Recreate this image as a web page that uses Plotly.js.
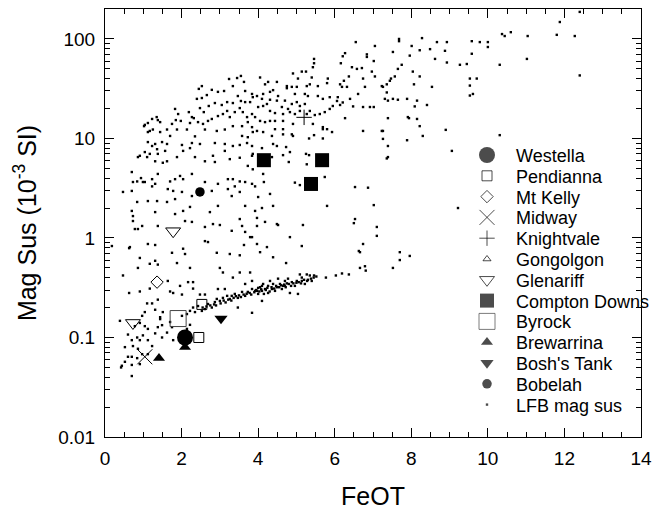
<!DOCTYPE html>
<html><head><meta charset="utf-8">
<script src="https://cdn.plot.ly/plotly-3.0.1.min.js"></script>
<style>html,body{margin:0;padding:0;background:#fff}#chart{width:654px;height:510px}</style>
</head><body><div id="chart"></div>
<script>
// LFB mag sus points [FeOT, MagSus]
const lfbPoints = [
[3.55,42.5],[3.45,40.5],[3.24,39.6],[3.63,37],[2.53,33.6],[2.45,31.5],[2.79,30.8],[2.95,29.4],[3.11,30],[3.34,33.6],[3.66,30],[2.66,27.3],[2.4,25],[2.53,25.5],[3.47,26.7],[3.55,23.8],[3.66,23.2],[3.79,23.2],[3.86,26],[3.19,23.2],[3.34,22.7],[3.05,21.7],[2.87,22.7],[2.71,21.2],[2.48,20.2],[2.58,18.4],[1.83,19.8],[1.91,17.6],[2.19,18.4],[2.32,16],[2.43,14.6],[2.56,14],[2.69,15],[2.79,15.7],[2.95,16.8],[3.08,17.6],[3.19,18.9],[3.26,16.4],[3.39,18.4],[3.52,20.2],[3.6,18.4],[3.71,16.4],[3.84,17.6],[3.73,14.6],[3.58,13.3],[3.34,13.3],[3.13,12.3],[2.92,11.9],[2.61,12.3],[2.35,10.5],[2.14,12.3],[1.98,15],[1.85,15.3],[1.75,14],[1.62,12.3],[1.38,15.3],[1.23,15.7],[1.12,14.3],[1.02,13.3],[1.25,12.3],[1.12,11.6],[1.44,11.6],[1.7,10.6],[1.88,12.3],[3.58,10.6],[3.73,10.3],[3.86,11.6],[3.84,13],[2.22,14.3],[2.27,16.4],
[1.12,9.2],[1.31,8.8],[1.49,9.2],[1.62,8.8],[2.01,8.6],[2.27,9],[2.48,8.8],[2.87,9],[3.13,8.8],[3.34,8.4],[3.52,8.6],[3.71,9],[3.84,8.4],[1.04,7.3],[1.17,7],[1.38,7],[1.57,7.5],[0.86,6.5],[1.1,6.5],[1.31,5.9],[1.51,5.7],[1.62,5.9],[1.88,6.5],[2.04,7.5],[2.22,8],[2.35,6.5],[2.61,5.9],[2.87,5.8],[2.82,6.7],[3.13,7.5],[3.26,6.2],[3.52,6.4],[3.73,5.3],[3.84,6.7],[0.7,4.6],[0.84,3.7],[0.94,4],[1.04,3.65],[1.23,3.9],[1.31,3.5],[1.38,4.4],[1.7,3.7],[1.83,3.9],[1.96,4.2],[2.04,3.9],[1.64,3.1],[1.78,2.97],[2.01,2.9],[2.27,4.4],[2.61,3.65],[2.79,2.97],[2.95,3.5],[3.21,3.9],[3.34,3.9],[3.39,3.3],[3.52,3.7],[3.66,3.65],[3.84,3.5],[3.21,3.1],[3.31,2.64],[3.52,2.9],[0.47,2.9],[0.7,2.97],[0.84,2.3],[1.12,2.35],[1.36,2.35],[1.62,2.3],[1.83,2.46],[2.27,2.64],[0.7,1.87],[1.31,1.82],[1.83,1.74],[2.04,1.87],[2.22,2.05],[2.74,1.82],[2.95,2.1],[3.66,2.1],[3.52,1.55],[0.73,1.48],[0.86,1.23],[0.97,1.32],[1.38,1.32],[2.09,1.48],[2.27,1.45],[2.61,1.29],[2.82,1.38],[3.0,1.35],[3.31,1.18],[3.58,1.32],[3.66,1.15],[3.79,1.02],[2.61,0.93],[2.69,0.91],[1.12,0.87],[1.31,0.85],[0.65,0.81],
[7.68,100],[7.68,95],[7.05,85],[6.55,93],[6.27,72],[6.21,67],[6.84,70],[6.84,66],[7.02,60],[7.52,74],[7.75,55],[7.65,50],[7.57,42],[7.44,38],[7.36,35],[7.26,33],[7.36,29],[7.31,25],[7.39,24],[7.65,24.5],[7.89,25],[5.46,63],[5.46,57],[5.43,52],[6.16,57],[6.45,52],[6.58,50],[6.71,51],[6.97,47],[7.05,42],[6.74,40],[6.37,42],[6.24,38],[6.14,35],[6.19,33],[6.32,33],[6.79,33],[6.61,28],[6.4,25],[6.21,23],[6.48,21],[6.74,20.7],[6.92,20.7],[7.02,20.7],[7.39,16],[7.94,16],[7.26,11.9],[6.74,11.9],[6.27,16],[5.93,11.6],[5.8,12.4],[5.69,13],[5.25,47],[5.14,47],[4.91,45],[5.04,40],[5.4,41],[5.82,40],[5.8,36],[5.56,33.6],[5.35,35],[5.27,33.6],[5.01,33],[4.75,33.6],[4.49,37],[4.26,37],[4.18,35],[4.05,41],[4.39,30.6],[4.31,29.4],[4.75,32],[4.88,33],[4.96,28],[5.22,28],[5.3,26.7],[5.56,26.7],[5.69,25],[5.87,26],[6.08,26],[6.06,23.8],[6.14,21.7],[5.95,21.2],[5.87,19.8],[5.74,18.4],[5.61,17.6],[5.48,17.2],[5.35,18.9],[5.22,22.2],[5.09,21.2],[5.01,23.2],[4.88,22.2],[4.78,19.8],[4.7,24],[4.62,20.7],[4.52,26.7],[4.49,24],[4.31,24.5],[4.13,28],[4.1,25],[3.97,26.7],[3.84,28],[4.0,20.7],[4.13,21.2],[4.23,22.2],[4.31,18.9],[4.44,18],[4.65,17.6],[4.83,18.4],[4.96,17.6],[5.09,18.9],[5.27,17.6],[3.92,16.4],[4.05,15],[4.18,14.6],[4.31,15],[4.44,15],[4.65,15],[4.91,14],[5.43,14],[5.69,12.4],[3.97,11.9],[4.13,11.6],[4.36,10.6],[4.65,12.4],[4.65,11],[4.44,12.4],[4.88,11],[5.33,10],
[12.4,187],[11.88,148],[11.8,110],[12.27,107],[11.04,107],[10.6,117],[10.37,112],[10.44,107],[10.0,93],[9.79,93],[9.58,95],[10.0,83],[9.58,71],[8.93,93],[8.67,93],[8.28,102],[8.01,85],[7.96,68],[8.22,77],[8.49,79],[8.88,76],[8.62,63],[8.93,58],[9.27,55],[9.45,56],[10.31,55],[11.02,63],[12.4,43],[9.53,40],[9.71,40],[9.53,34],[9.61,28],[9.53,27],[8.54,33],[8.07,35],[8.22,42],[8.04,47],[8.15,24],[8.09,21],[8.41,21.7],[8.22,13.3],[8.15,15.7],[7.91,16.4],[7.23,11.9],[7.26,9.9],[7.39,8.4],[7.39,6.5],[8.3,10.6],[8.9,12.2],[9.06,7.5],[10.31,10.8],[6.53,3.25],[6.87,3.2],[7.02,2.14],[6.53,1.55],[6.5,1.41],[7.1,1.29],[6.74,0.87],[5.8,2.1],[5.74,4.1],[9.22,2.0],[7.47,40],[7.23,33.6],[7.52,25],
[7.89,9.6],[7.36,6.3],[4.91,10.6],[5.46,10.8],[5.69,10],[5.25,7],[5.33,6.8],[5.27,5.5],[4.8,5.8],[4.83,7.3],[4.65,6.8],[4.73,8.2],[4.49,8.4],[4.39,8.8],[4.1,8],[4.36,6.5],[3.86,7],[3.86,4.9],[4.13,4.4],[4.15,3.65],[3.92,3.3],[4.31,2.77],[4.0,2.58],[4.39,2.1],[4.1,2.0],[3.92,1.87],[3.97,1.59],[4.18,1.45],[4.49,1.38],[3.97,1.32],[5.17,1.35],[4.96,3.6],[5.09,3.4],[6.63,0.74],[7.1,1.05],[7.7,0.72],[4.83,1.02],[5.14,0.83],[3.84,1.02],[3.97,0.87],[4.23,0.81],[4.05,0.72],[4.39,0.64],
[0.18,0.83],[0.63,0.79],[1.75,0.71],[2.04,0.78],[2.09,0.69],[2.92,0.71],[3.26,0.69],[3.52,0.67],[3.63,0.85],[0.91,0.63],[1.17,0.55],[1.31,0.59],[1.38,0.54],[0.86,0.5],[0.47,0.42],[1.88,0.56],[2.22,0.5],[3.0,0.5],[3.08,0.45],[3.34,0.4],[3.52,0.45],[3.79,0.45],[1.64,0.37],[2.17,0.36],[2.3,0.36],[1.96,0.33],[2.3,0.31],[2.48,0.27],[2.61,0.27],[2.01,0.27],[1.7,0.29],[1.78,0.28],[1.17,0.31],[0.63,0.28],[0.91,0.29],[1.38,0.24],[1.1,0.22],[1.23,0.22],[1.04,0.18],[1.31,0.19],[1.51,0.18],[1.44,0.16],[0.39,0.147],[0.97,0.165],[0.91,0.14],[0.78,0.13],[1.04,0.13],[1.12,0.122],[1.38,0.127],[1.49,0.133],[1.62,0.112],[1.75,0.127],[1.7,0.143],[1.44,0.153],[1.31,0.11],[0.99,0.105],[0.84,0.1],[0.6,0.107],[0.7,0.094],[0.91,0.094],[1.12,0.094],[1.49,0.1],[1.78,0.094],[0.52,0.08],[0.73,0.082],[0.86,0.077],[1.23,0.082],[0.6,0.064],[0.7,0.064],[0.84,0.062],[0.52,0.057],[0.44,0.052],[0.42,0.05],[0.7,0.053],[0.91,0.054],[0.7,0.041],[0.97,0.068],[1.12,0.068],[2.01,0.165],[2.14,0.172],[2.22,0.185],[2.3,0.2],[2.35,0.18],[2.22,0.134],[2.14,0.122],
[2.43,0.207],[2.53,0.185],[2.61,0.193],[2.69,0.217],[2.79,0.2],[2.87,0.227],[2.92,0.244],[3.0,0.233],[3.08,0.25],[3.19,0.262],[3.26,0.244],[3.31,0.262],[3.39,0.274],[3.47,0.25],[3.58,0.287],[3.66,0.262],[3.73,0.287],[3.84,0.307],[3.92,0.294],[4.0,0.315],[4.1,0.33],[3.13,0.307],[2.95,0.307],[3.66,0.345],[3.84,0.37],[3.47,0.2],[3.84,0.177],[4.1,0.233],
[4.52,1.35],[6.66,0.72],[4.73,0.56],[7.96,0.66],[7.7,0.6],[7.52,0.5],[6.79,0.52],[6.81,0.47],[6.66,0.5],[6.37,0.43],[6.19,0.44],[6.03,0.42],[5.77,0.4],[5.46,0.42],[5.35,0.42],[5.4,0.37],[5.27,0.43],[5.22,0.345],[5.14,0.4],[5.09,0.43],[5.01,0.37],[4.96,0.33],[4.88,0.36],[4.78,0.39],[4.75,0.35],[4.7,0.37],[4.65,0.33],[4.57,0.345],[4.52,0.39],[4.49,0.32],[4.39,0.345],[4.36,0.307],[4.31,0.37],[4.26,0.33],[4.18,0.307],[4.13,0.345],[4.1,0.294],[4.05,0.32],[4.0,0.274],[3.97,0.294],[4.15,0.274],[4.26,0.28],[4.44,0.294],[4.62,0.307],[4.83,0.28],[5.04,0.274],[4.7,0.33],[5.14,0.37],[5.3,0.38],
[0.73,1.66],[0.78,1.23],[1.04,13.7],[1.35,16.4],[0.73,3.65],[1.17,11.9],[1.44,14.6],[0.91,6.7],[1.23,8.4],[1.36,7.8],[0.99,3.65],[1.23,3.3],
[2.55,0.2],[2.65,0.205],[2.75,0.21],[2.85,0.215],[2.9,0.21],[3.02,0.22],[3.1,0.235],[3.15,0.225],[3.22,0.24],[3.3,0.235],[3.36,0.25],[3.42,0.26],[3.5,0.265],[3.55,0.255],[3.62,0.27],[3.7,0.275],[3.78,0.28],[3.82,0.27],[3.9,0.285],[3.95,0.3],[4.03,0.29],[4.08,0.305],[4.2,0.3],[4.24,0.315],[4.3,0.29],[4.35,0.32],[4.42,0.31],[4.47,0.33],[4.55,0.32],[4.6,0.335],[4.68,0.34],[4.72,0.32],[4.8,0.345],[4.86,0.33],[4.92,0.35],[5.0,0.355],[5.06,0.36],[5.12,0.35],[5.2,0.38],[5.28,0.37],[5.38,0.39],[5.45,0.4],[5.52,0.41]
];

// Sample locations
const westellaFe = [2.09],        westellaMs = [0.1];
const pendiannaFe = [2.45, 2.53], pendiannaMs = [0.1, 0.215];
const mtKellyFe = [1.36],         mtKellyMs = [0.36];
const midwayFe = [1.04],          midwayMs = [0.064];
const knightvaleFe = [5.2],       knightvaleMs = [16.3];
const gongolgonFe = [],           gongolgonMs = [];
const glenariffFe = [0.73, 1.78], glenariffMs = [0.14, 1.17];
const comptonFe = [4.15, 5.38, 5.67], comptonMs = [6.05, 3.49, 6.05];
const byrockFe = [1.91],          byrockMs = [0.155];
const brewarrinaFe = [1.41, 2.09], brewarrinaMs = [0.062, 0.08];
const boshFe = [3.03],            boshMs = [0.155];
const bobelahFe = [2.48],         bobelahMs = [2.9];

const seriesNames = ['Westella', 'Pendianna', 'Mt Kelly', 'Midway', 'Knightvale', 'Gongolgon', 'Glenariff',
                     'Compton Downs', 'Byrock', 'Brewarrina', "Bosh's Tank", 'Bobelah', 'LFB mag sus'];

const FONT = 'Liberation Sans, Arial, sans-serif';

// marker styles per series
const styles = {
  'Westella':      {symbol: 'circle', size: 16, lw: 0},
  'Pendianna':     {symbol: 'square-open', size: 10, lw: 1},
  'Mt Kelly':      {symbol: 'diamond-open', size: 9.5, lw: 1},
  'Midway':        {symbol: 'x-thin-open', size: 15, lw: 1},
  'Knightvale':    {symbol: 'cross-thin-open', size: 11, lw: 1},
  'Gongolgon':     {symbol: 'triangle-up-open', size: 7, lw: 1},
  'Glenariff':     {symbol: 'triangle-down-open', size: 13, lw: 1},
  'Compton Downs': {symbol: 'square', size: 14, lw: 0},
  'Byrock':        {symbol: 'square-open', size: 16, lw: 1, color: '#444'},
  'Brewarrina':    {symbol: 'triangle-up', size: 10.5, lw: 0},
  "Bosh's Tank":   {symbol: 'triangle-down', size: 11.5, lw: 0},
  'Bobelah':       {symbol: 'circle', size: 9.5, lw: 0},
  'LFB mag sus':   {symbol: 'square', size: 2.4, lw: 0}
};

function tr(name, x, y) {
  const s = styles[name];
  return {
    type: 'scatter', mode: 'markers', name: name, x: x, y: y, showlegend: false,
    marker: {symbol: s.symbol, size: s.size, color: s.color || '#000', line: {width: s.lw, color: s.color || '#000'}},
    cliponaxis: false, hoverinfo: 'skip'
  };
}

const traces = [
  tr('LFB mag sus', lfbPoints.map(p => p[0]), lfbPoints.map(p => p[1])),
  tr('Westella', westellaFe, westellaMs),
  tr('Pendianna', pendiannaFe, pendiannaMs),
  tr('Mt Kelly', mtKellyFe, mtKellyMs),
  tr('Midway', midwayFe, midwayMs),
  tr('Knightvale', knightvaleFe, knightvaleMs),
  tr('Glenariff', glenariffFe, glenariffMs),
  tr('Compton Downs', comptonFe, comptonMs),
  tr('Byrock', byrockFe, byrockMs),
  tr('Brewarrina', brewarrinaFe, brewarrinaMs),
  tr("Bosh's Tank", boshFe, boshMs),
  tr('Bobelah', bobelahFe, bobelahMs)
];

// Custom legend (pixel-space overlay axes)
const LEG_SYM_X = 487, LEG_TXT_X = 514, LEG_TOP = 155, LEG_STEP = 20.8;
const legRows = seriesNames.map((n, i) => LEG_TOP + i * LEG_STEP);
traces.push({
  type: 'scatter', mode: 'markers', xaxis: 'x2', yaxis: 'y2', showlegend: false, hoverinfo: 'skip',
  x: seriesNames.map(() => LEG_SYM_X), y: legRows, cliponaxis: false,
  marker: {
    symbol: seriesNames.map(n => styles[n].symbol),
    size: seriesNames.map(n => styles[n].size),
    color: seriesNames.map(n => styles[n].color || '#000'),
    line: {width: seriesNames.map(n => styles[n].lw), color: seriesNames.map(n => styles[n].color || '#000')}
  }
});
const annotations = seriesNames.map((n, i) => ({
  xref: 'x2', yref: 'y2', x: LEG_TXT_X, y: legRows[i] + 1, text: n, showarrow: false,
  xanchor: 'left', yanchor: 'middle', font: {family: FONT, size: 18, color: '#000'}
}));

const layout = {
  width: 654, height: 510,
  margin: {l: 105, r: 13, t: 9, b: 73},
  paper_bgcolor: '#fff', plot_bgcolor: '#fff',
  font: {family: FONT, size: 19, color: '#000'},
  showlegend: false,
  annotations: annotations,
  xaxis: {
    range: [0, 14], dtick: 2, tick0: 0, ticks: 'inside', ticklen: 9, tickcolor: '#000',
    showline: true, linecolor: '#000', linewidth: 1, mirror: 'allticks', showgrid: false, zeroline: false,
    tickfont: {family: FONT, size: 19}, ticklabelstandoff: 4,
    minor: {dtick: 0.5, ticks: 'inside', ticklen: 5, tickcolor: '#000', showgrid: false},
    title: {text: 'FeOT', font: {family: FONT, size: 25}, standoff: 23}
  },
  yaxis: {
    type: 'log', range: [-2, Math.log10(200)], dtick: 1, tick0: 0, ticks: 'inside', ticklen: 9, tickcolor: '#000',
    showline: true, linecolor: '#000', linewidth: 1, mirror: 'allticks', showgrid: false, zeroline: false,
    tickfont: {family: FONT, size: 19}, ticklabelstandoff: 5, exponentformat: 'none',
    minor: {dtick: 'D1', ticks: 'inside', ticklen: 5, tickcolor: '#000', showgrid: false},
    title: {text: 'Mag Sus (10<sup>-3</sup> SI)', font: {family: FONT, size: 25}, standoff: 14}
  },
  xaxis2: {overlaying: 'x', anchor: 'y2', range: [105, 641], visible: false, fixedrange: true},
  yaxis2: {overlaying: 'y', anchor: 'x2', range: [437, 9], visible: false, fixedrange: true}
};

Plotly.newPlot('chart', traces, layout, {staticPlot: true, displayModeBar: false});
</script>
</body></html>
